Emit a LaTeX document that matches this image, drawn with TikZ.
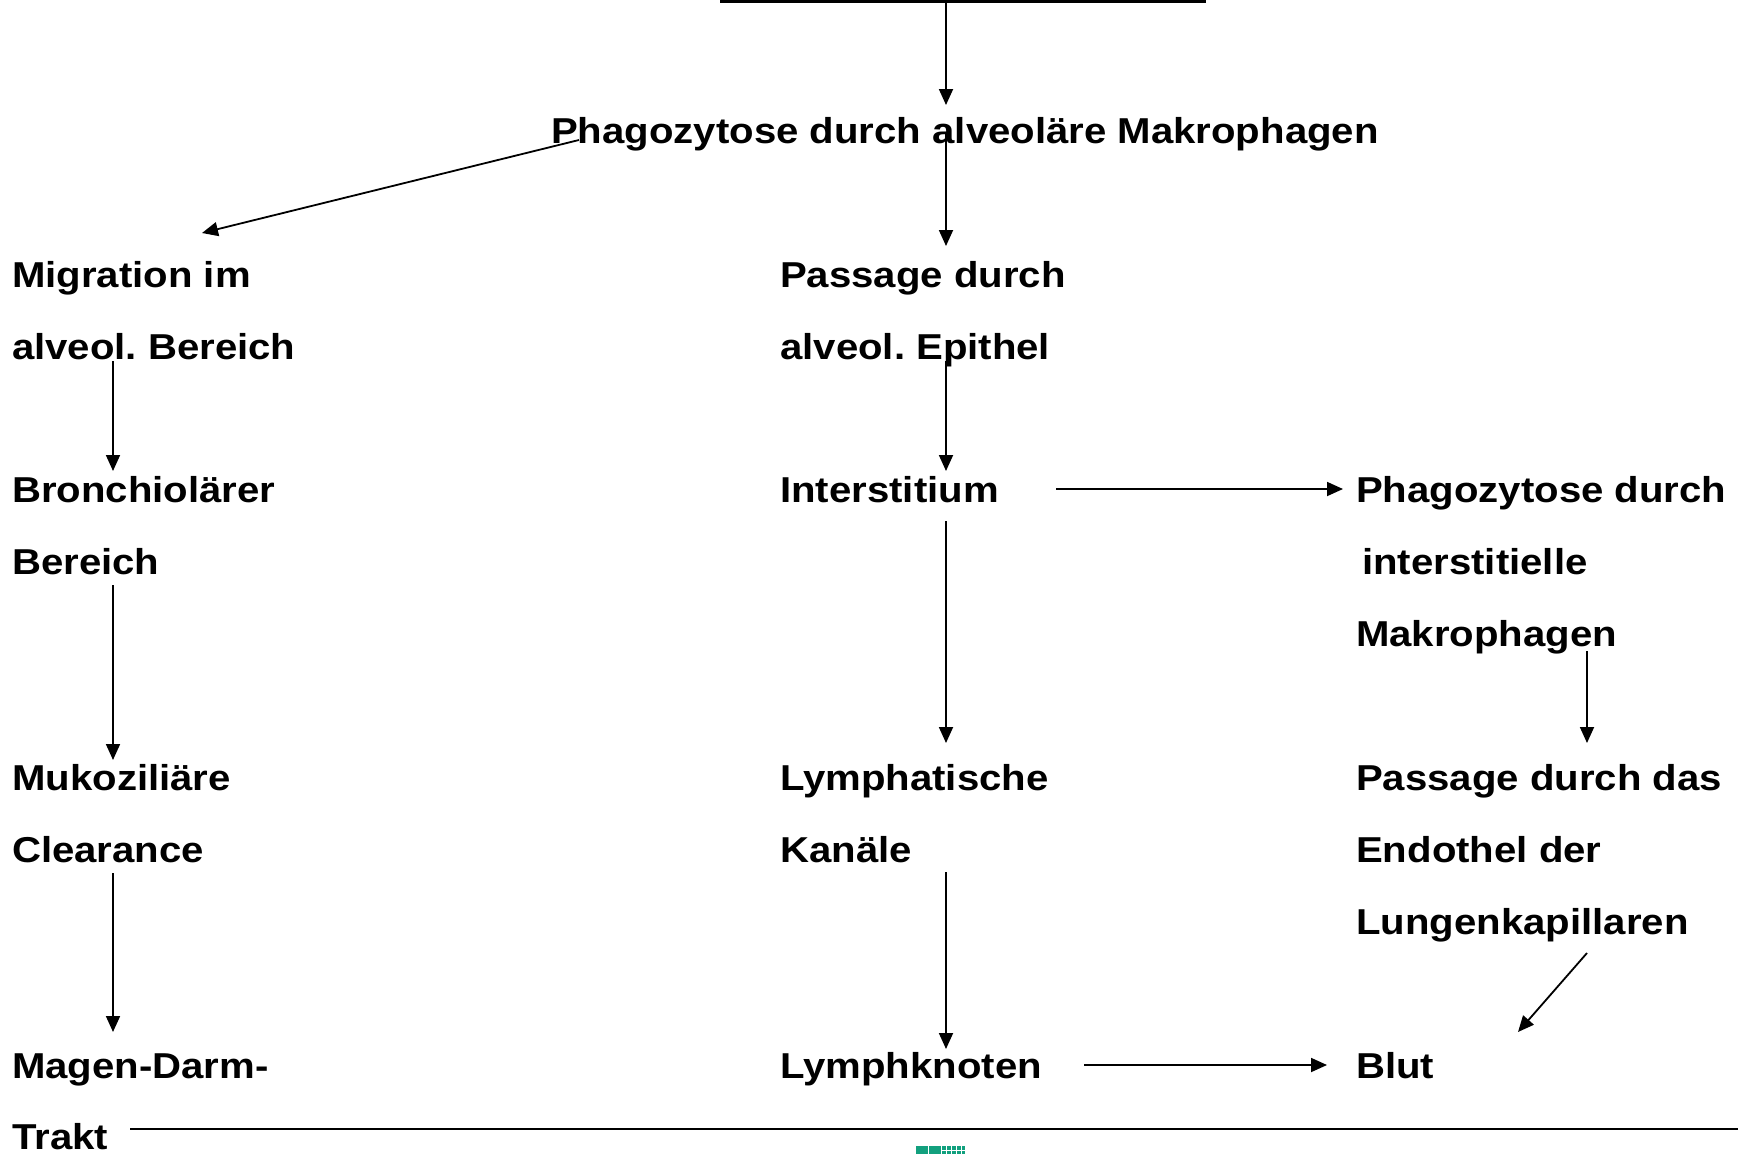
\documentclass[tikz,border=0pt]{standalone}
\usepackage{fontspec}
\newfontfamily\lab[FakeStretch=1.115]{Liberation Sans}
\usetikzlibrary{arrows.meta}
\definecolor{markgreen}{RGB}{18,160,126}
\frenchspacing
\begin{document}
\begin{tikzpicture}[x=1pt,y=-1pt,
  lbl/.style={anchor=base west, inner sep=0pt, font=\lab\bfseries\fontsize{36}{36}\selectfont},
  arr/.style={line width=1.8pt, -{Triangle[width=14pt,length=16pt]}},
  rulel/.style={line width=2.6pt}]
\useasboundingbox (0,0) rectangle (1738,1154);

% text
\node[lbl] (title) at (551,143) {Phagozytose durch alveoläre Makrophagen};
\node[lbl] (mig1) at (12,287) {Migration im};
\node[lbl] (mig2) at (12,359) {alveol. Bereich};
\node[lbl] (bro1) at (12,502) {Bronchiolärer};
\node[lbl] (bro2) at (12,574) {Bereich};
\node[lbl] (muk1) at (12,790) {Mukoziliäre};
\node[lbl] (muk2) at (12,862) {Clearance};
\node[lbl] (mag1) at (12,1078) {Magen-Darm-};
\node[lbl] (mag2) at (12,1149) {Trakt};
\node[lbl] (pas1) at (780,287) {Passage durch};
\node[lbl] (pas2) at (780,359) {alveol. Epithel};
\node[lbl] (int) at (780,502) {Interstitium};
\node[lbl] (lym1) at (780,790) {Lymphatische};
\node[lbl] (lym2) at (780,862) {Kanäle};
\node[lbl] (lkn) at (780,1078) {Lymphknoten};
\node[lbl] (pha1) at (1356,502) {Phagozytose durch};
\node[lbl] (pha2) at (1362,574) {interstitielle};
\node[lbl] (pha3) at (1356,646) {Makrophagen};
\node[lbl] (end1) at (1356,790) {Passage durch das};
\node[lbl] (end2) at (1356,862) {Endothel der};
\node[lbl] (end3) at (1356,934) {Lungenkapillaren};
\node[lbl] (blut) at (1356,1078) {Blut};

% coordinates
\coordinate (topL) at (720,1.5);
\coordinate (topR) at (1206,1.5);
\coordinate (topM) at (946,2);
\coordinate (titleIn) at (946,105);
\coordinate (titleOut) at (946,133);
\coordinate (pasIn) at (946,246);
\coordinate (titleDiag) at (579,140);
\coordinate (migIn) at (202,233);
\coordinate (migOut) at (113,361);
\coordinate (broIn) at (113,471);
\coordinate (broOut) at (113,585);
\coordinate (mukIn) at (113,760);
\coordinate (mukOut) at (113,873);
\coordinate (magIn) at (113,1032);
\coordinate (pasOut) at (946,361);
\coordinate (intIn) at (946,471);
\coordinate (intR) at (1056,489);
\coordinate (phaIn) at (1343,489);
\coordinate (intOut) at (946,521);
\coordinate (lymIn) at (946,743);
\coordinate (lymOut) at (946,872);
\coordinate (lknIn) at (946,1049);
\coordinate (lknR) at (1084,1065);
\coordinate (blutIn) at (1327,1065);
\coordinate (phaOut) at (1587,651);
\coordinate (endIn) at (1587,743);
\coordinate (endOut) at (1587,953);
\coordinate (blutDiag) at (1518,1032);
\coordinate (botL) at (130,1129);
\coordinate (botR) at (1738,1129);

% connectors
\draw[rulel] (topL) -- (topR);
\draw[arr] (topM) -- (titleIn);
\draw[arr] (titleOut) -- (pasIn);
\draw[arr] (titleDiag) -- (migIn);
\draw[arr] (migOut) -- (broIn);
\draw[arr] (broOut) -- (mukIn);
\draw[arr] (mukOut) -- (magIn);
\draw[arr] (pasOut) -- (intIn);
\draw[arr] (intR) -- (phaIn);
\draw[arr] (intOut) -- (lymIn);
\draw[arr] (lymOut) -- (lknIn);
\draw[arr] (lknR) -- (blutIn);
\draw[arr] (phaOut) -- (endIn);
\draw[arr] (endOut) -- (blutDiag);
\draw[rulel] (botL) -- (botR);

% small green mark
\fill[markgreen] (916,1146) rectangle (965,1154);
\foreach \xx in {928,941,946,951,956,961}
  \draw[white, line width=0.8pt] (\xx,1146) -- (\xx,1154);
\draw[white, line width=0.6pt] (941,1150) -- (965,1150);
\end{tikzpicture}
\end{document}
